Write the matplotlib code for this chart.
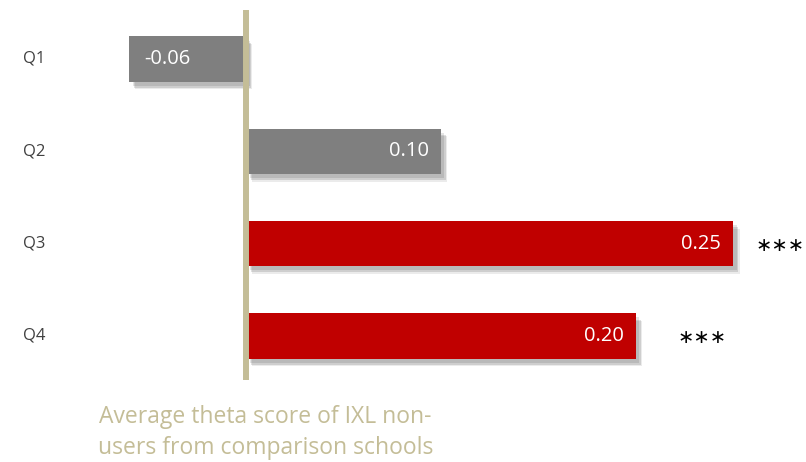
import matplotlib.pyplot as plt
import matplotlib.patheffects as pe

quartiles = ["Q1", "Q2", "Q3", "Q4"]
values = [-0.06, 0.10, 0.25, 0.20]
labels = ["-0.06", "0.10", "0.25", "0.20"]
colors = ["#7f7f7f", "#7f7f7f", "#c00000", "#c00000"]
stars = ["", "", "***", "***"]
star_x = [0, 0, 0.2615, 0.2215]
caption = "Average theta score of IXL non-\nusers from comparison schools"

tan = "#c4bd97"

fig = plt.figure(figsize=(8.06, 4.62), dpi=100)
ax = fig.add_axes([0, 0, 1, 1])
ax.set_xlim(-0.1262, 0.2872)
ax.set_ylim(4.366, -0.639)
ax.axis("off")

# soft drop shadow, built from a few offset copies
shadow = [pe.SimplePatchShadow(offset=(2.5, -3), shadow_rgbFace="#000000", alpha=0.10),
          pe.SimplePatchShadow(offset=(3.5, -4.5), shadow_rgbFace="#000000", alpha=0.12),
          pe.SimplePatchShadow(offset=(4.5, -5.5), shadow_rgbFace="#000000", alpha=0.08),
          pe.Normal()]

ys = range(len(quartiles))
bars = ax.barh(ys, values, height=0.49, color=colors)
for b in bars:
    b.set_path_effects(shadow)

ax.plot([0, 0], [-0.53, 3.48], color=tan, lw=4.3, solid_capstyle="butt", zorder=5)

for y, q, v, lab, s, sx in zip(ys, quartiles, values, labels, stars, star_x):
    ax.text(-0.1145, y, q, ha="left", va="center", fontsize=12, color="#404040",
            family="Open Sans")
    if v < 0:
        ax.annotate(lab, (v, y), xytext=(11, 0), textcoords="offset points",
                    ha="left", va="center", fontsize=14.5, color="white", family="Open Sans")
    else:
        ax.annotate(lab, (v, y), xytext=(-9, 0), textcoords="offset points",
                    ha="right", va="center", fontsize=14.5, color="white", family="Open Sans")
    if s:
        ax.text(sx, y + 0.02, s.replace("*", "\u2217"), ha="left", va="center",
                fontsize=14, color="black", family="DejaVu Sans")

ax.text(0.010, 4.05, caption, ha="center", va="center", fontsize=16.5, color=tan,
        family="Open Sans", linespacing=1.38)

fig.savefig("out.png", dpi=100)
